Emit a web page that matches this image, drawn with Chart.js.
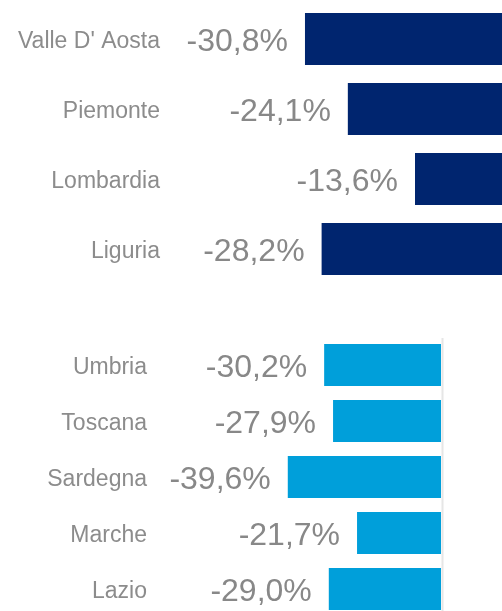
<!DOCTYPE html>
<html>
<head>
<meta charset="utf-8">
<script src="https://cdn.jsdelivr.net/npm/chart.js@4.4.1/dist/chart.umd.min.js"></script>
<style>
  html, body { margin: 0; padding: 0; background: #fff; overflow: hidden; }
  .box { position: absolute; left: 0; width: 502px; height: 290px; }
  #top { top: 0; }
  #bottom { top: 330px; }
</style>
</head>
<body>
<div class="box" id="top"><canvas id="chart-north"></canvas></div>
<div class="box" id="bottom"><canvas id="chart-centre"></canvas></div>
<script>
// Nord
const northRegions = ["Valle D' Aosta", 'Piemonte', 'Lombardia', 'Liguria'];
const northValues = [-30.8, -24.1, -13.6, -28.2];

// Centro + Sardegna
const centreRegions = ['Umbria', 'Toscana', 'Sardegna', 'Marche', 'Lazio'];
const centreValues = [-30.2, -27.9, -39.6, -21.7, -29.0];

const textGrey = '#8c8c8c';
const fontFamily = '"Liberation Sans", Arial, sans-serif';

// scrive il valore a sinistra della barra
const valueLabels = {
    id: 'valueLabels',
    afterDatasetsDraw(chart) {
        const ctx = chart.ctx;
        const meta = chart.getDatasetMeta(0);
        const data = chart.data.datasets[0].data;
        ctx.save();
        ctx.font = '32px ' + fontFamily;
        ctx.fillStyle = '#888888';
        ctx.textAlign = 'right';
        ctx.textBaseline = 'middle';
        meta.data.forEach(function(bar, i) {
            const txt = data[i].toFixed(1).replace('.', ',') + '%';
            ctx.fillText(txt, bar.x - 17, bar.y + 3);
        });
        ctx.restore();
    }
};

// linea dello zero (solo grafico in basso)
const zeroLine = {
    id: 'zeroLine',
    afterDatasetsDraw(chart, args, opts) {
        if (!opts.show) return;
        const ctx = chart.ctx;
        const x = chart.scales.x.getPixelForValue(0) + 1.5;
        ctx.save();
        ctx.strokeStyle = '#e6e6e6';
        ctx.lineWidth = 2;
        ctx.beginPath();
        ctx.moveTo(x, chart.chartArea.top + 1);
        ctx.lineTo(x, chart.chartArea.bottom);
        ctx.stroke();
        ctx.restore();
    }
};

function makeChart(id, labels, values, color, opts) {
    const ctx = document.getElementById(id).getContext('2d');
    return new Chart(ctx, {
        type: 'bar',
        data: {
            labels: labels,
            datasets: [{
                data: values,
                backgroundColor: color,
                borderWidth: 0,
                barPercentage: opts.barPct,
                categoryPercentage: 1
            }]
        },
        options: {
            indexAxis: 'y',
            responsive: true,
            maintainAspectRatio: false,
            animation: false,
            layout: { padding: opts.padding },
            scales: {
                x: { display: false, min: opts.min, max: 0 },
                y: {
                    afterFit: function(scale) {
                        scale.width = opts.axisWidth;
                        scale.paddingTop = 0;
                        scale.paddingBottom = 0;
                    },
                    grid: { display: false, drawTicks: false },
                    border: { display: false },
                    ticks: {
                        padding: 10,
                        labelOffset: 3,
                        color: textGrey,
                        font: { family: fontFamily, size: 23 }
                    }
                }
            },
            plugins: {
                legend: { display: false },
                tooltip: { enabled: false },
                zeroLine: { show: opts.zeroLine }
            }
        },
        plugins: [valueLabels, zeroLine]
    });
}

makeChart('chart-north', northRegions, northValues, '#00256f', {
    barPct: 52 / 70,
    padding: { top: 4, bottom: 6, left: 0, right: 0 },
    axisWidth: 170,
    min: -51.9,
    zeroLine: false
});

makeChart('chart-centre', centreRegions, centreValues, '#009fda', {
    barPct: 42 / 56,
    padding: { top: 7, bottom: 3, left: 0, right: 61 },
    axisWidth: 157,
    min: -73.4,
    zeroLine: true
});
</script>
</body>
</html>
